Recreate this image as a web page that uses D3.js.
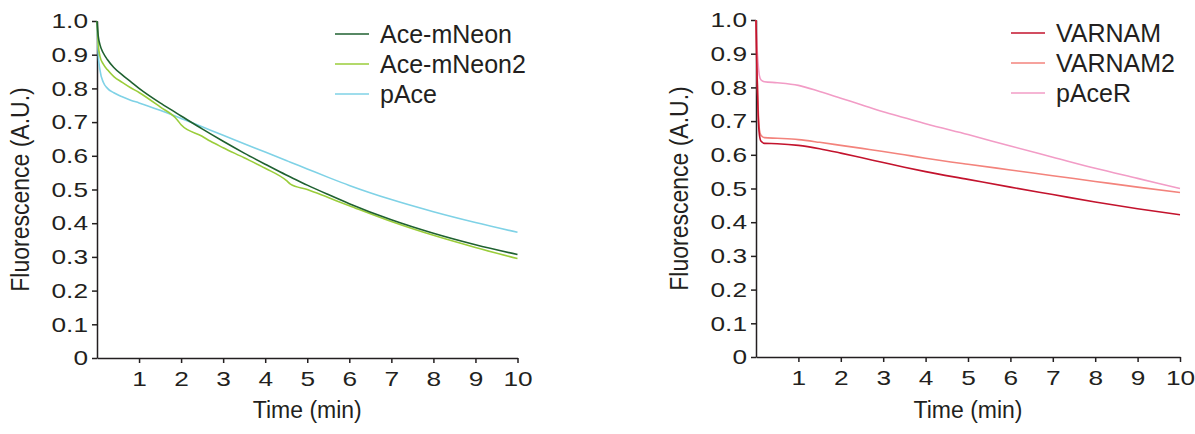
<!DOCTYPE html>
<html>
<head>
<meta charset="utf-8">
<script src="https://cdn.jsdelivr.net/npm/d3@7"></script>
<style>
  body { margin: 0; background: #fff; }
  text { font-family: Arial, "Liberation Sans", sans-serif; fill: #231f20; }
  .axis path, .axis line { stroke: #231f20; stroke-width: 1.5; }
  .axis text { font-size: 21px; }
</style>
</head>
<body>
<script>
// left panel data
var leftTime = [0, 0.03, 0.07, 0.15, 0.25, 0.4, 0.6, 0.8, 1, 1.5, 1.9, 2, 2.5, 2.7, 3, 3.5, 4, 4.5, 4.6, 5, 5.5, 6, 7, 8, 9, 10]
var aceMNeon = [1.0, 0.955, 0.93, 0.905, 0.885, 0.862, 0.84, 0.82, 0.80, 0.757, 0.726, 0.718, 0.68, 0.665, 0.643, 0.608, 0.575, 0.543, 0.537, 0.513, 0.485, 0.458, 0.41, 0.37, 0.336, 0.307]
var aceMNeon2 = [1.0, 0.93, 0.895, 0.872, 0.855, 0.835, 0.818, 0.802, 0.788, 0.745, 0.708, 0.692, 0.658, 0.643, 0.624, 0.594, 0.563, 0.527, 0.516, 0.5, 0.476, 0.452, 0.405, 0.364, 0.328, 0.295]
var pAce = [1.0, 0.9, 0.855, 0.818, 0.8, 0.787, 0.775, 0.765, 0.757, 0.735, 0.716, 0.711, 0.686, 0.676, 0.661, 0.636, 0.611, 0.586, 0.581, 0.561, 0.536, 0.512, 0.47, 0.434, 0.402, 0.373]

// right panel data
var rightTime = [0, 0.02, 0.05, 0.08, 0.12, 0.2, 0.5, 1, 1.5, 2, 2.5, 3, 3.5, 4, 5, 6, 7, 8, 9, 10]
var varnam = [1.0, 0.86, 0.72, 0.66, 0.64, 0.634, 0.633, 0.628, 0.618, 0.605, 0.591, 0.577, 0.563, 0.55, 0.527, 0.504, 0.482, 0.46, 0.44, 0.422]
var varnam2 = [1.0, 0.87, 0.74, 0.675, 0.657, 0.651, 0.649, 0.645, 0.637, 0.628, 0.619, 0.61, 0.6, 0.59, 0.572, 0.555, 0.538, 0.521, 0.504, 0.488]
var pAceR = [1.0, 0.93, 0.87, 0.835, 0.822, 0.817, 0.814, 0.806, 0.788, 0.768, 0.748, 0.728, 0.71, 0.692, 0.66, 0.626, 0.593, 0.56, 0.53, 0.50]

var leftNames = ['Ace-mNeon', 'Ace-mNeon2', 'pAce']
var leftColors = ['#1f6130', '#9acd3a', '#7fd2e6']
var rightNames = ['VARNAM', 'VARNAM2', 'pAceR']
var rightColors = ['#c3132d', '#f3837c', '#f29cc6']

var yTicks = [0, 0.1, 0.2, 0.3, 0.4, 0.5, 0.6, 0.7, 0.8, 0.9, 1.0]
var xTicks = [1, 2, 3, 4, 5, 6, 7, 8, 9, 10]

var svg = d3.select('body').append('svg')
    .attr('width', 1195)
    .attr('height', 434)

var sx = 1.25 // tick labels look horizontally stretched in the reference

function drawPanel(opts) {
  var x = d3.scaleLinear().domain([0, 10]).range([opts.x0, opts.x1])
  var y = d3.scaleLinear().domain([0, 1]).range([opts.y0, opts.y1])

  var g = svg.append('g')

  // y axis
  g.append('g')
      .attr('class', 'axis')
      .attr('transform', 'translate(' + opts.x0 + ',0)')
      .call(d3.axisLeft(y)
        .tickValues(yTicks)
        .tickSize(5)
        .tickSizeOuter(0)
        .tickFormat(function (d) { return d === 0 ? '0' : d3.format('.1f')(d) }))
    .selectAll('text')
      .attr('x', -9 / sx)
      .attr('transform', 'scale(' + sx + ',1)')

  // x axis
  g.append('g')
      .attr('class', 'axis')
      .attr('transform', 'translate(0,' + opts.y0 + ')')
      .call(d3.axisBottom(x)
        .tickValues(xTicks)
        .tickSize(5)
        .tickSizeOuter(0)
        .tickPadding(8))
    .selectAll('text')
      .attr('transform', 'scale(' + sx + ',1)')

  var line = d3.line()
      .x(function (d) { return x(d[0]) })
      .y(function (d) { return y(d[1]) })
      .curve(d3.curveMonotoneX)

  // draw last series first so first ends on top
  opts.series.slice().reverse().forEach(function (s, i) {
    var k = opts.series.length - 1 - i
    g.append('path')
        .datum(opts.time.map(function (t, j) { return [t, s[j]] }))
        .attr('fill', 'none')
        .attr('stroke', opts.colors[k])
        .attr('stroke-width', 1.6)
        .attr('d', line)
  })

  // axis titles
  g.append('text')
      .attr('x', (opts.x0 + opts.x1) / 2)
      .attr('y', 418)
      .attr('text-anchor', 'middle')
      .attr('font-size', '23px')
      .text('Time (min)')
  g.append('text')
      .attr('transform', 'translate(' + (opts.x0 - 68) + ',' + (opts.y0 + opts.y1) / 2 + ') rotate(-90) scale(1,1.15)')
      .attr('text-anchor', 'middle')
      .attr('font-size', '23px')
      .text('Fluorescence (A.U.)')

  // legend
  opts.names.forEach(function (n, i) {
    var ly = opts.legY + i * 30
    g.append('line')
        .attr('x1', opts.legX).attr('x2', opts.legX + 34)
        .attr('y1', ly).attr('y2', ly)
        .attr('stroke', opts.colors[i])
        .attr('stroke-width', 1.6)
    g.append('text')
        .attr('x', opts.legX + 45)
        .attr('y', ly + 9)
        .attr('font-size', '25px')
        .text(n)
  })
}

drawPanel({ x0: 97, x1: 517.5, y0: 358, y1: 21, time: leftTime,
  series: [aceMNeon, aceMNeon2, pAce], names: leftNames, colors: leftColors,
  legX: 335, legY: 34 })
drawPanel({ x0: 756, x1: 1180, y0: 357, y1: 20, time: rightTime,
  series: [varnam, varnam2, pAceR], names: rightNames, colors: rightColors,
  legX: 1011, legY: 33 })
</script>
</body>
</html>
